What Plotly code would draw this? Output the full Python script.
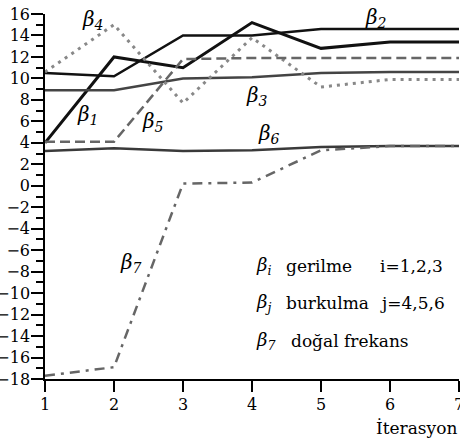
import plotly.graph_objects as go

# Iteration numbers
iterations = [1, 2, 3, 4, 5, 6, 7]

# Constraint multipliers per iteration
beta1 = [4.0, 12.0, 11.0, 15.2, 12.8, 13.4, 13.4]
beta2 = [10.5, 10.2, 14.0, 14.0, 14.6, 14.6, 14.6]
beta3 = [8.9, 8.9, 10.0, 10.1, 10.5, 10.6, 10.6]
beta4 = [10.6, 15.0, 7.7, 13.8, 9.2, 9.9, 9.9]
beta5 = [4.1, 4.1, 11.8, 11.9, 11.9, 11.9, 11.9]
beta6 = [3.25, 3.5, 3.25, 3.3, 3.6, 3.7, 3.7]
beta7 = [-17.7, -16.9, 0.2, 0.3, 3.3, 3.7, 3.7]

y_ticks = list(range(-18, 17, 2))
x_ticks = iterations

FONT = "DejaVu Serif"

series = [
    (beta1, "#111111", 3.0, "solid"),
    (beta2, "#111111", 2.5, "solid"),
    (beta3, "#444444", 2.5, "solid"),
    (beta4, "#888888", 3.0, "3px,5px"),
    (beta5, "#666666", 2.5, "10px,5px"),
    (beta6, "#3a3a3a", 2.5, "solid"),
    (beta7, "#666666", 2.5, "10px,6px,3px,6px"),
]

fig = go.Figure()
for vals, color, width, dash in series:
    fig.add_trace(go.Scatter(
        x=iterations, y=vals, mode="lines",
        line=dict(color=color, width=width, dash=dash),
        showlegend=False, hoverinfo="skip",
    ))

# Curve labels
curve_labels = [
    ("β<sub>4</sub>", 1.69, 15.4),
    ("β<sub>2</sub>", 5.80, 15.6),
    ("β<sub>1</sub>", 1.62, 6.6),
    ("β<sub>5</sub>", 2.56, 5.9),
    ("β<sub>3</sub>", 4.07, 8.4),
    ("β<sub>6</sub>", 4.24, 4.8),
    ("β<sub>7</sub>", 2.25, -7.2),
]
for txt, x, y in curve_labels:
    fig.add_annotation(x=x, y=y, text=f"<i>{txt}</i>", showarrow=False,
                       xanchor="center", yanchor="middle",
                       font=dict(family=FONT, size=20, color="black"))

# Key text block
key_rows = [
    ("β<sub>i</sub>", "gerilme", "i=1,2,3", -7.5),
    ("β<sub>j</sub>", "burkulma", "j=4,5,6", -10.9),
    ("β<sub>7</sub>", "doğal frekans", "", -14.5),
]
for sym, desc, idx, y in key_rows:
    fig.add_annotation(x=4.03, y=y, text=f"<i>{sym}</i>", showarrow=False,
                       xanchor="left", yanchor="middle",
                       font=dict(family=FONT, size=18, color="black"))
    fig.add_annotation(x=4.47 if idx else 4.54, y=y, text=desc, showarrow=False,
                       xanchor="left", yanchor="middle",
                       font=dict(family=FONT, size=17, color="black"))
    if idx:
        fig.add_annotation(x=5.82, y=y, text=idx, showarrow=False,
                           xanchor="left", yanchor="middle",
                           font=dict(family=FONT, size=17, color="black"))

fig.add_annotation(xref="paper", yref="paper", x=1.0, y=-0.134,
                   text="İterasyon", showarrow=False,
                   xanchor="right", yanchor="middle",
                   font=dict(family=FONT, size=17, color="black"))

fig.update_layout(
    width=460, height=444,
    margin=dict(l=45, r=1, t=14, b=65),
    paper_bgcolor="white", plot_bgcolor="white",
    font=dict(family=FONT, size=16, color="black"),
)
fig.update_xaxes(
    range=[1, 7], tickvals=x_ticks, ticks="outside", ticklen=11,
    tickwidth=1.5, tickcolor="black", showline=True, linecolor="black",
    linewidth=1.5, showgrid=False, zeroline=False, ticklabeloverflow="allow",
    automargin=False, ticklabelstandoff=-1,
    tickfont=dict(family=FONT, size=16, color="black"),
)
fig.update_yaxes(
    range=[-18, 16], tickvals=y_ticks, ticks="outside", ticklen=12,
    tickwidth=1.5, tickcolor="black", showline=True, linecolor="black",
    linewidth=1.5, showgrid=False, zeroline=False, automargin=False,
    ticklabelstandoff=-2,
    minor=dict(dtick=1, tick0=-18, ticks="outside", ticklen=7,
               tickwidth=1.5, tickcolor="black"),
    tickfont=dict(family=FONT, size=16, color="black"),
)

fig.write_html("out.html")
